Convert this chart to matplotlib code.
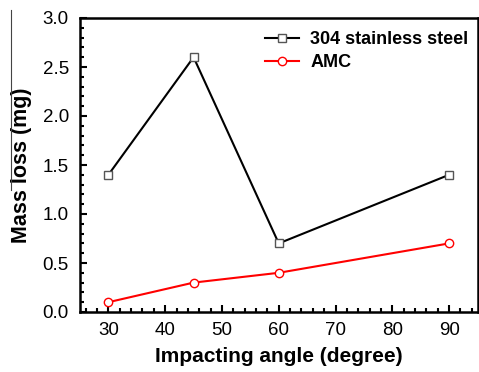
import matplotlib
matplotlib.use("Agg")
import matplotlib.pyplot as plt
from matplotlib.lines import Line2D
from matplotlib.ticker import MultipleLocator

angles = [30, 45, 60, 90]
steel = [1.4, 2.6, 0.7, 1.4]
amc = [0.1, 0.3, 0.4, 0.7]
labels = ["304 stainless steel", "AMC"]

plt.rcParams['font.family'] = ['Liberation Sans', 'DejaVu Sans']

fig = plt.figure(figsize=(4.79, 3.72), dpi=100)
ax = fig.add_axes([80/479, 1-312/372, 397.5/479, (312-18)/372])

ax.plot(angles, steel, color='black', lw=1.5, marker='s', ms=5.5,
        mfc='white', mec='#555555', mew=1.0, label=labels[0])
ax.plot(angles, amc, color='red', lw=1.5, marker='o', ms=6,
        mfc='white', mec='red', mew=1.0, label=labels[1])

ax.set_xlim(25, 95)
ax.set_ylim(0, 3.0)
ax.xaxis.set_major_locator(MultipleLocator(10))
ax.xaxis.set_minor_locator(MultipleLocator(2))
ax.yaxis.set_major_locator(MultipleLocator(0.5))
ax.yaxis.set_minor_locator(MultipleLocator(0.1))
ax.set_xticks([30, 40, 50, 60, 70, 80, 90])
ax.tick_params(which='both', direction='in', top=False, right=False, width=1.5)
ax.tick_params(which='major', length=5, labelsize=13.5, pad=7)
ax.tick_params(which='minor', length=3)
ax.tick_params(axis='y', which='major', pad=8)
for s in ax.spines.values():
    s.set_linewidth(1.8)

ax.set_xlabel("Impacting angle (degree)", fontsize=15, fontweight='bold', labelpad=6)
ax.set_ylabel("Mass loss (mg)", fontsize=15.5, fontweight='bold', labelpad=8)

leg = ax.legend(loc='upper right', frameon=False,
                prop={'weight': 'bold', 'size': 13}, handlelength=1.9,
                borderaxespad=0.0, handletextpad=0.6, labelspacing=0.35,
                bbox_to_anchor=(0.995, 0.98))

fig.add_artist(Line2D([11/479, 11/479], [1-10/372, 1-190/372],
                      color='#444444', lw=0.8, transform=fig.transFigure))

fig.savefig("out.png", dpi=100)
